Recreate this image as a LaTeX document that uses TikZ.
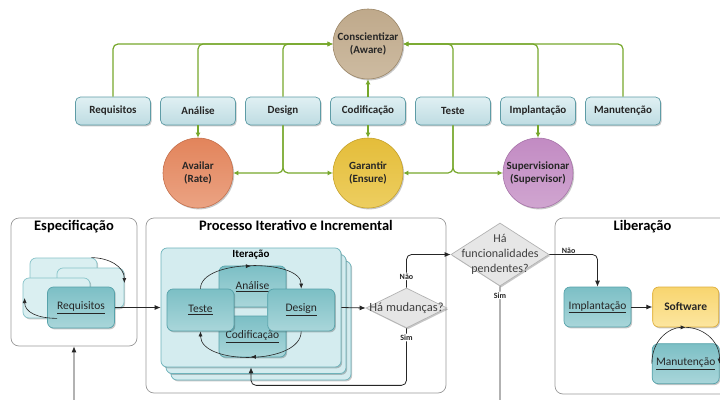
\documentclass[tikz,border=0pt]{standalone}
\usepackage{fontspec}
\setmainfont{Carlito}
\usepackage{xcolor}
\usetikzlibrary{arrows.meta, positioning, shapes.geometric, shadows, decorations.markings, calc}

\definecolor{boxTop}{HTML}{E0F0F3}
\definecolor{boxBot}{HTML}{BEDCE2}
\definecolor{boxEdge}{HTML}{5E9CA6}
\definecolor{awareTop}{HTML}{BFA98B}
\definecolor{awareBot}{HTML}{CDBBA1}
\definecolor{awareEdge}{HTML}{9C8768}
\definecolor{rateTop}{HTML}{E2845B}
\definecolor{rateBot}{HTML}{EBA383}
\definecolor{rateEdge}{HTML}{C5704C}
\definecolor{ensTop}{HTML}{E4BD3A}
\definecolor{ensBot}{HTML}{EDCE60}
\definecolor{ensEdge}{HTML}{C6A22B}
\definecolor{supTop}{HTML}{C28BC3}
\definecolor{supBot}{HTML}{D0A5D0}
\definecolor{supEdge}{HTML}{A774A9}
\definecolor{lineGreen}{HTML}{76A72B}
\definecolor{ghostFill}{HTML}{DAEFF1}
\definecolor{ghostEdge}{HTML}{86C3C9}
\definecolor{iterFill}{HTML}{D4ECEF}
\definecolor{iterEdge}{HTML}{6DB3BB}
\definecolor{tealTop}{HTML}{7CBFC5}
\definecolor{tealBot}{HTML}{A9D6DA}
\definecolor{tealEdge}{HTML}{56A2AA}
\definecolor{softTop}{HTML}{F8D56F}
\definecolor{softBot}{HTML}{FCE6A0}
\definecolor{softEdge}{HTML}{DDAE3C}
\definecolor{decFill}{HTML}{E6E6E6}
\definecolor{decEdge}{HTML}{B3B3B3}

\begin{document}
\begin{tikzpicture}[
    x=1pt, y=-1pt,
    softshadow/.style = {drop shadow={shadow xshift=1.2pt, shadow yshift=-1.4pt, opacity=0.22, fill=black}},
    topbox/.style = {
        rectangle, rounded corners=5pt, draw=boxEdge, line width=0.7pt,
        top color=boxTop, bottom color=boxBot,
        minimum width=75pt, minimum height=28pt,
        font=\fontsize{11}{12}\selectfont\bfseries, text=black!85, softshadow
    },
    circ/.style = {
        circle, minimum size=70pt, inner sep=0pt, align=center, line width=0.6pt,
        font=\fontsize{11}{13}\selectfont\bfseries, text=black!85, softshadow
    },
    section/.style = {rectangle, rounded corners=8pt, draw=black!40, line width=0.7pt, fill=white},
    sectitle/.style = {font=\fontsize{14.5}{16}\selectfont\bfseries, inner sep=1pt},
    ghost/.style = {
        rectangle, rounded corners=6pt, draw=ghostEdge, fill=ghostFill,
        line width=0.7pt, softshadow
    },
    tealbox/.style = {
        rectangle, rounded corners=6pt, draw=tealEdge, line width=0.7pt,
        top color=tealTop, bottom color=tealBot,
        minimum width=67pt, minimum height=41pt,
        font=\fontsize{11.5}{13}\selectfont, text=black!85, softshadow
    },
    softbox/.style = {tealbox, draw=softEdge, top color=softTop, bottom color=softBot,
        minimum width=66pt, minimum height=40pt, font=\fontsize{11.5}{13}\selectfont\bfseries},
    ititle/.style = {font=\fontsize{11}{13}\selectfont\bfseries, inner sep=1pt},
    decision/.style = {diamond, draw=decEdge, fill=decFill, line width=0.7pt, inner sep=0pt, softshadow},
    dtext/.style = {font=\fontsize{12.5}{15}\selectfont, text=black!75, align=center},
    flag/.style = {font=\fontsize{8}{9}\selectfont\bfseries, text=black!85, fill=white, inner sep=1pt},
    garr/.style = {draw=lineGreen, line width=1.2pt, rounded corners=5pt, -{Latex[length=5pt, width=5pt]}},
    arr/.style = {draw=black!85, line width=0.8pt, rounded corners=5pt, -{Latex[length=6pt, width=5pt]}},
    cyc/.style = {draw=black!85, line width=0.6pt, -{Latex[length=5pt, width=4pt]}},
    midarr/.style = {postaction={decorate}, decoration={markings,
        mark=at position 0.5 with {\arrow{Latex[length=5pt, width=4pt]}}}}
]
\useasboundingbox (0,0) rectangle (720,399);
\clip (0,0) rectangle (720,399);

% phases
\node[topbox] (req) at (113,111) {Requisitos};
\node[topbox, right=9.3pt of req] (ana) {Análise};
\node[topbox, right=9.3pt of ana] (des) {Design};
\node[topbox, right=9.3pt of des] (cod) {Codificação};
\node[topbox, right=9.3pt of cod] (tes) {Teste};
\node[topbox, right=9.3pt of tes] (imp) {Implantação};
\node[topbox, right=9.3pt of imp] (man) {Manutenção};

% goals
\node[circ, draw=awareEdge, top color=awareTop, bottom color=awareBot] (aware) at (cod |- 0,44) {Conscientizar\\(Aware)};
\node[circ, draw=rateEdge, top color=rateTop, bottom color=rateBot] (rate) at (ana |- 0,173) {Availar\\(Rate)};
\node[circ, draw=ensEdge, top color=ensTop, bottom color=ensBot] (ens) at (cod |- 0,173) {Garantir\\(Ensure)};
\node[circ, draw=supEdge, top color=supTop, bottom color=supBot] (sup) at (imp |- 0,173) {Supervisionar\\(Supervisor)};

\draw[garr] (req.north) |- (aware.west);
\draw[garr] (ana.north) |- (aware.west);
\draw[garr] (des.north) |- (aware.west);
\draw[garr] (cod.north) -- (aware.south);
\draw[garr] (tes.north) |- (aware.east);
\draw[garr] (imp.north) |- (aware.east);
\draw[garr] (man.north) |- (aware.east);
\draw[garr] (ana.south) -- (rate.north);
\draw[garr] (des.south) |- (rate.east);
\draw[garr] (des.south) |- (ens.west);
\draw[garr] (cod.south) -- (ens.north);
\draw[garr] (tes.south) |- (ens.east);
\draw[garr] (tes.south) |- (sup.west);
\draw[garr] (imp.south) -- (sup.north);

% lower panels
\node[section, minimum width=126pt, minimum height=128pt] (espec) at (74,282) {};
\node[sectitle, below=1pt of espec.north] (especT) {Especificação};
\node[section, minimum width=300pt, minimum height=175pt] (proc) at (296,305.5) {};
\node[sectitle, below=1pt of proc.north] (procT) {Processo Iterativo e Incremental};
\node[section, minimum width=175pt, minimum height=176pt] (lib) at (642.5,306) {};
\node[sectitle, below=1pt of lib.north] (libT) {Liberação};

% specification
\node[ghost, minimum width=67pt, minimum height=40pt] (reqa) at (63.5,278) {};
\node[ghost, minimum width=67pt, minimum height=40pt] (reqb) at (90.5,288) {};
\node[ghost, minimum width=67pt, minimum height=40pt] (reqc) at (56.5,298) {};
\node[tealbox] (reqf) at (81,307.5) {\underline{Requisitos}};
\draw[cyc] ([xshift=-6pt]reqa.north east) .. controls +(18,0) and +(0,-16) .. ([yshift=5pt]reqb.east);
\draw[cyc] ([shift={(10pt,10pt)}]reqf.south west) .. controls +(-20,0) and +(0,14) .. ([xshift=2pt]reqc.west);

% iteration
\node[ghost, draw=iterEdge, fill=iterFill, minimum width=180pt, minimum height=119pt] (iterc) at (261,320.5) {};
\node[ghost, draw=iterEdge, fill=iterFill, minimum width=180pt, minimum height=119pt] (iterb) at (256,314) {};
\node[ghost, draw=iterEdge, fill=iterFill, minimum width=180pt, minimum height=119pt] (iter) at (251,307.5) {};
\node[ititle, below=1pt of iter.north] (iterT) {Iteração};
\node[tealbox] (ana2) at (252.5,286.5) {\underline{Análise}};
\node[tealbox] (cod2) at (252.5,336.5) {\underline{Codificação}};
\node[tealbox, minimum height=42pt] (tes2) at (200.5,310) {\underline{Teste}};
\node[tealbox, minimum height=42pt, right=33pt of tes2] (des2) {\underline{Design}};
\draw[cyc, midarr] (tes2.north) .. controls +(0,-30) and +(0,-30) .. (des2.north);
\draw[cyc, midarr] (des2.south) .. controls +(0,34) and +(0,34) .. (tes2.south);

% decisions
\node[decision, minimum width=81pt, minimum height=40pt,
      label={[dtext]center:Há mudanças?}] (mud) at (406.5,308) {};
\node[decision, minimum width=98pt, minimum height=63pt,
      label={[dtext, font=\fontsize{12}{15}\selectfont]center:{Há\\funcionalidades\\pendentes?}}] (func) at (500,254.5) {};

% release
\node[tealbox, minimum height=40pt] (imp2) at (597.5,307) {\underline{Implantação}};
\node[softbox, right=21pt of imp2] (soft) {Software};
\node[tealbox, minimum height=40pt, below=16pt of soft] (man2) {\underline{Manutenção}};
\draw[cyc] (man2.west) .. controls +(0,-25) and +(-15,0) .. (soft.south);
\draw[cyc] (soft.south) .. controls +(15,0) and +(0,-25) .. (man2.east);

% flow
\draw[arr] (reqf.east) -- (iter.west);
\draw[arr] (iter.east) -- (mud.west);
\draw[arr] (mud.north) |- node[flag, pos=0.17] {Não} (func.west);
\draw[arr] (mud.south) -- node[flag, pos=0.16] {Sim} ++(0,57) -| (iter.south);
\draw[arr] (func.east) -| node[flag, pos=0.2, above, fill=none] {Não} (imp2.north);
\draw[arr] (func.south) -- node[flag, pos=0.06] {Sim} ++(0,150) -| (espec.south);
\draw[arr] (imp2) -- (soft);
\end{tikzpicture}
\end{document}
